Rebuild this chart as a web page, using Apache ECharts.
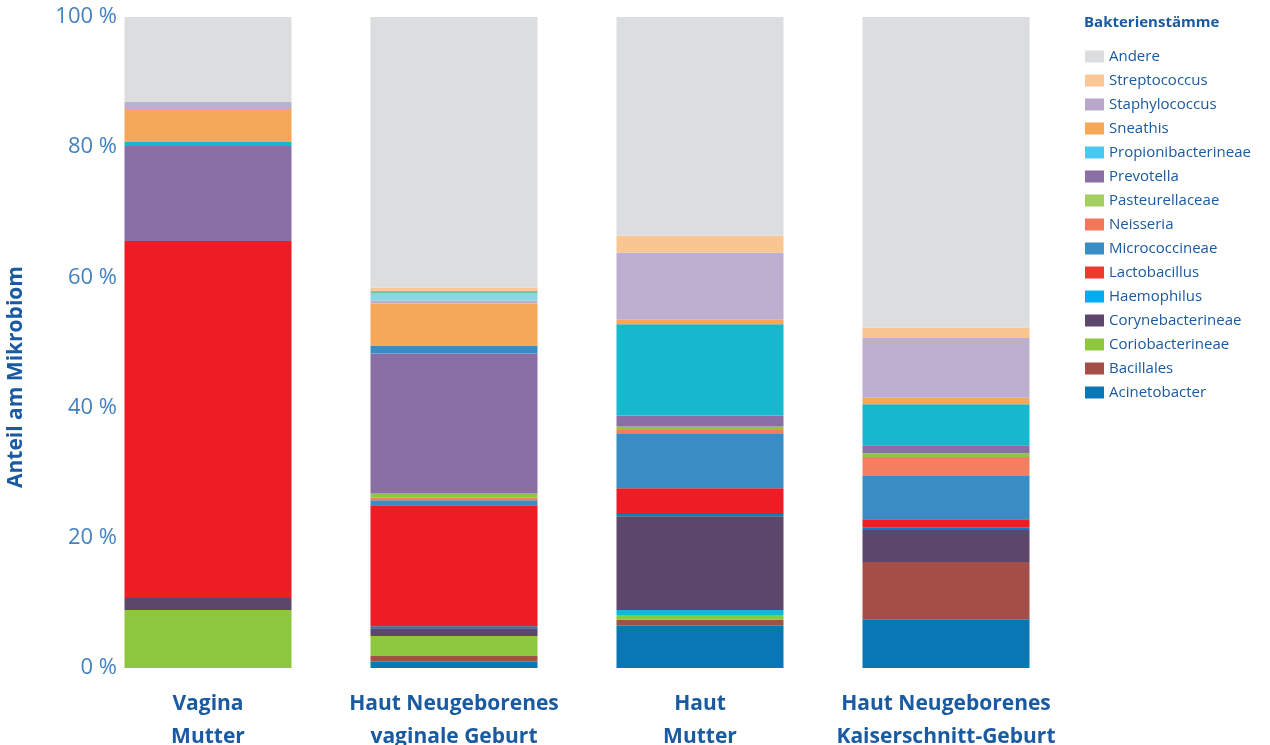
<!DOCTYPE html>
<html>
<head>
<meta charset="utf-8">
<script src="https://cdn.jsdelivr.net/npm/echarts@6/dist/echarts.min.js"></script>
<style>
html,body{margin:0;padding:0;background:#fff;}
#c{width:1270px;height:745px;}
</style>
</head>
<body>
<div id="c"></div>
<script>
// Categories (x axis)
const categories = ['Vagina\nMutter', 'Haut Neugeborenes\nvaginale Geburt', 'Haut\nMutter', 'Haut Neugeborenes\nKaiserschnitt-Geburt'];
const yTicks = [0, 20, 40, 60, 80, 100];

// Shares in % per bacterial group (one value per category)
const acinetobacter     = [0, 0.95, 6.5, 7.5];
const bacillales        = [0, 0.9, 0.9, 8.8];
const coriobacterineae  = [8.9, 3.05, 0.75, 0];
const propioniLow       = [0, 0, 0.75, 0];
const corynebacterineae = [1.85, 1.2, 14.4, 4.9];
const haemophilus       = [0, 0.3, 0.35, 0.35];
const lactobacillus     = [54.85, 18.6, 3.95, 1.3];
const micrococcineae    = [0, 0.75, 8.45, 6.65];
const neisseria         = [0, 0.4, 0.5, 2.9];
const pasteurellaceae   = [0, 0.65, 0.55, 0.6];
const prevotella        = [14.6, 21.5, 1.7, 1.2];
const micrococcUpper    = [0, 1.25, 0, 0];
const propionibacterineae = [0.6, 0, 14.0, 6.3];
const sneathis          = [5.05, 6.45, 0.7, 1.0];
const staphylococcus    = [1.1, 0.45, 10.3, 9.2];
const propioniHigh      = [0, 1.05, 0, 0];
const pasteurHigh       = [0, 0.45, 0, 0];
const streptococcus     = [0, 0.45, 2.6, 1.6];
const andere            = [13.05, 41.6, 33.6, 47.7];

// stacking order bottom -> top: [name, data, bar colour]
const stackOrder = [
  ['Acinetobacter', acinetobacter, '#0a77b5'],
  ['Bacillales', bacillales, '#a34f48'],
  ['Coriobacterineae', coriobacterineae, '#8dc63f'],
  ['Propionibacterineae', propioniLow, '#15b8cf'],
  ['Corynebacterineae', corynebacterineae, '#5c466c'],
  ['Haemophilus', haemophilus, '#0f7cbc'],
  ['Lactobacillus', lactobacillus, '#ee1d25'],
  ['Micrococcineae', micrococcineae, '#398dc5'],
  ['Neisseria', neisseria, '#f47f60'],
  ['Pasteurellaceae', pasteurellaceae, '#8dc63f'],
  ['Prevotella', prevotella, '#8a6fa5'],
  ['Micrococcineae', micrococcUpper, '#398dc5'],
  ['Propionibacterineae', propionibacterineae, '#15b8cf'],
  ['Sneathis', sneathis, '#f5a75a'],
  ['Staphylococcus', staphylococcus, '#bdafd0'],
  ['Propionibacterineae', propioniHigh, '#88d8e4'],
  ['Pasteurellaceae', pasteurHigh, '#80c0a8'],
  ['Streptococcus', streptococcus, '#f9c592'],
  ['Andere', andere, '#dcdddf']
];

// legend (top -> bottom) with legend icon colours
const legendItems = [
  ['Andere', '#dcdddf'],
  ['Streptococcus', '#f9c896'],
  ['Staphylococcus', '#b9a6cb'],
  ['Sneathis', '#f5a75a'],
  ['Propionibacterineae', '#48c8f0'],
  ['Prevotella', '#8a6fa5'],
  ['Pasteurellaceae', '#a3cf62'],
  ['Neisseria', '#f1775a'],
  ['Micrococcineae', '#398dc5'],
  ['Lactobacillus', '#ee3a2c'],
  ['Haemophilus', '#00aeef'],
  ['Corynebacterineae', '#5c466c'],
  ['Coriobacterineae', '#8dc63f'],
  ['Bacillales', '#a34f48'],
  ['Acinetobacter', '#0a77b5']
];

const FONT = '"Open Sans", "DejaVu Sans", sans-serif';
const chart = echarts.init(document.getElementById('c'), null, {renderer: 'canvas'});

chart.setOption({
  animation: false,
  backgroundColor: '#ffffff',
  title: {
    text: 'Bakterienstämme',
    left: 1079,
    top: 10,
    textStyle: {fontFamily: FONT, fontSize: 15, fontWeight: 'bold', color: '#1a5aa0'}
  },
  legend: {
    orient: 'vertical',
    left: 1080,
    top: 44,
    itemWidth: 19,
    itemHeight: 12,
    itemGap: 9,
    icon: 'rect',
    textStyle: {fontFamily: FONT, fontSize: 15, color: '#1a5aa0', lineHeight: 15},
    data: legendItems.map(l => ({name: l[0], itemStyle: {color: l[1]}}))
  },
  graphic: [{
    type: 'text',
    rotation: Math.PI / 2,
    x: 6, y: 488,
    style: {
      text: 'Anteil am Mikrobiom',
      fontFamily: FONT, fontSize: 21, fontWeight: 'bold', fill: '#1a5aa0'
    }
  }],
  grid: {left: 85, right: 201, top: 17, bottom: 77, containLabel: false, outerBoundsMode: 'none'},
  xAxis: {
    type: 'category',
    data: categories,
    axisLine: {show: false},
    axisTick: {show: false},
    axisLabel: {
      interval: 0, margin: 20,
      fontFamily: FONT, fontSize: 21, fontWeight: 'bold', lineHeight: 33,
      color: '#1a5aa0'
    }
  },
  yAxis: {
    type: 'value',
    min: yTicks[0],
    max: yTicks[yTicks.length - 1],
    interval: yTicks[1] - yTicks[0],
    splitLine: {show: false},
    axisLine: {show: false},
    axisTick: {show: false},
    axisLabel: {
      margin: -32,
      formatter: '{value} %',
      fontFamily: FONT, fontSize: 22, color: '#4282c2'
    }
  },
  series: stackOrder.map(s => ({
    name: s[0],
    type: 'bar',
    stack: 'total',
    barWidth: 167,
    data: s[1],
    itemStyle: {color: s[2]},
    emphasis: {disabled: true}
  }))
});
</script>
</body>
</html>
